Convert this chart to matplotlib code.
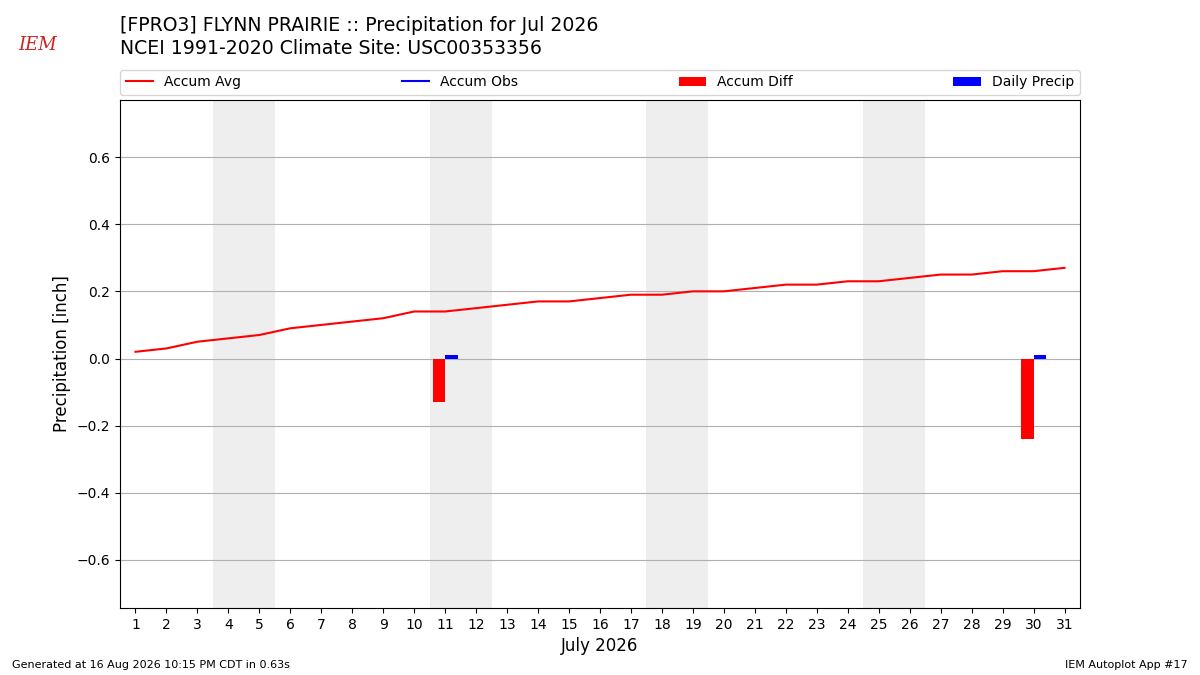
import matplotlib
matplotlib.use("Agg")
import matplotlib.pyplot as plt
import numpy as np

days = np.arange(1, 32)
accum_avg = [0.02, 0.03, 0.05, 0.06, 0.07, 0.09, 0.10, 0.11, 0.12, 0.14,
             0.14, 0.15, 0.16, 0.17, 0.17, 0.18, 0.19, 0.19, 0.20, 0.20,
             0.21, 0.22, 0.22, 0.23, 0.23, 0.24, 0.25, 0.25, 0.26, 0.26,
             0.27]
obs_days = [11, 30]
accum_diff = [-0.13, -0.24]
daily_precip = [0.01, 0.01]
weekends = [(4, 5), (11, 12), (18, 19), (25, 26)]

fig = plt.figure(figsize=(12, 6.75), dpi=100)
ax = fig.add_axes([0.1, 0.0993, 0.8, 0.7526])

for start, end in weekends:
    ax.axvspan(start - 0.5, end + 0.5, color="#EEEEEE", zorder=0, lw=0)

ax.plot(days, accum_avg, color="r", label="Accum Avg", zorder=3)
ax.plot([], [], color="b", label="Accum Obs")
ax.bar(np.array(obs_days) - 0.4, accum_diff, width=0.4, align="edge",
       color="r", label="Accum Diff", zorder=3)
ax.bar(obs_days, daily_precip, width=0.4, align="edge", color="b",
       label="Daily Precip", zorder=3)

ax.set_xlim(0.5, 31.5)
ax.set_ylim(-0.743, 0.77)
ax.set_xticks(days)
ax.set_yticks([-0.6, -0.4, -0.2, 0.0, 0.2, 0.4, 0.6])
ax.grid(axis="y", color="#b0b0b0", zorder=1)
ax.set_axisbelow(True)
ax.set_xlabel("July 2026", fontsize=12)
ax.set_ylabel("Precipitation [inch]", fontsize=12)

ax.legend(loc="lower left", bbox_to_anchor=(0, 1.01, 1, 0.05), ncol=4,
          mode="expand", borderaxespad=0, fontsize=10)

fig.text(0.1, 0.962, "[FPRO3] FLYNN PRAIRIE :: Precipitation for Jul 2026",
         fontsize=13.6, va="center")
fig.text(0.1, 0.928, "NCEI 1991-2020 Climate Site: USC00353356",
         fontsize=13.6, va="center")
fig.text(0.031, 0.933, "IEM", color="#cc2222", fontsize=13,
         family="DejaVu Serif", style="italic", ha="center", va="center")

fig.text(0.01, 0.015, "Generated at 16 Aug 2026 10:15 PM CDT in 0.63s",
         fontsize=8, va="center")
fig.text(0.99, 0.015, "IEM Autoplot App #17", fontsize=8, ha="right",
         va="center")

fig.savefig("out.png", dpi=100)
